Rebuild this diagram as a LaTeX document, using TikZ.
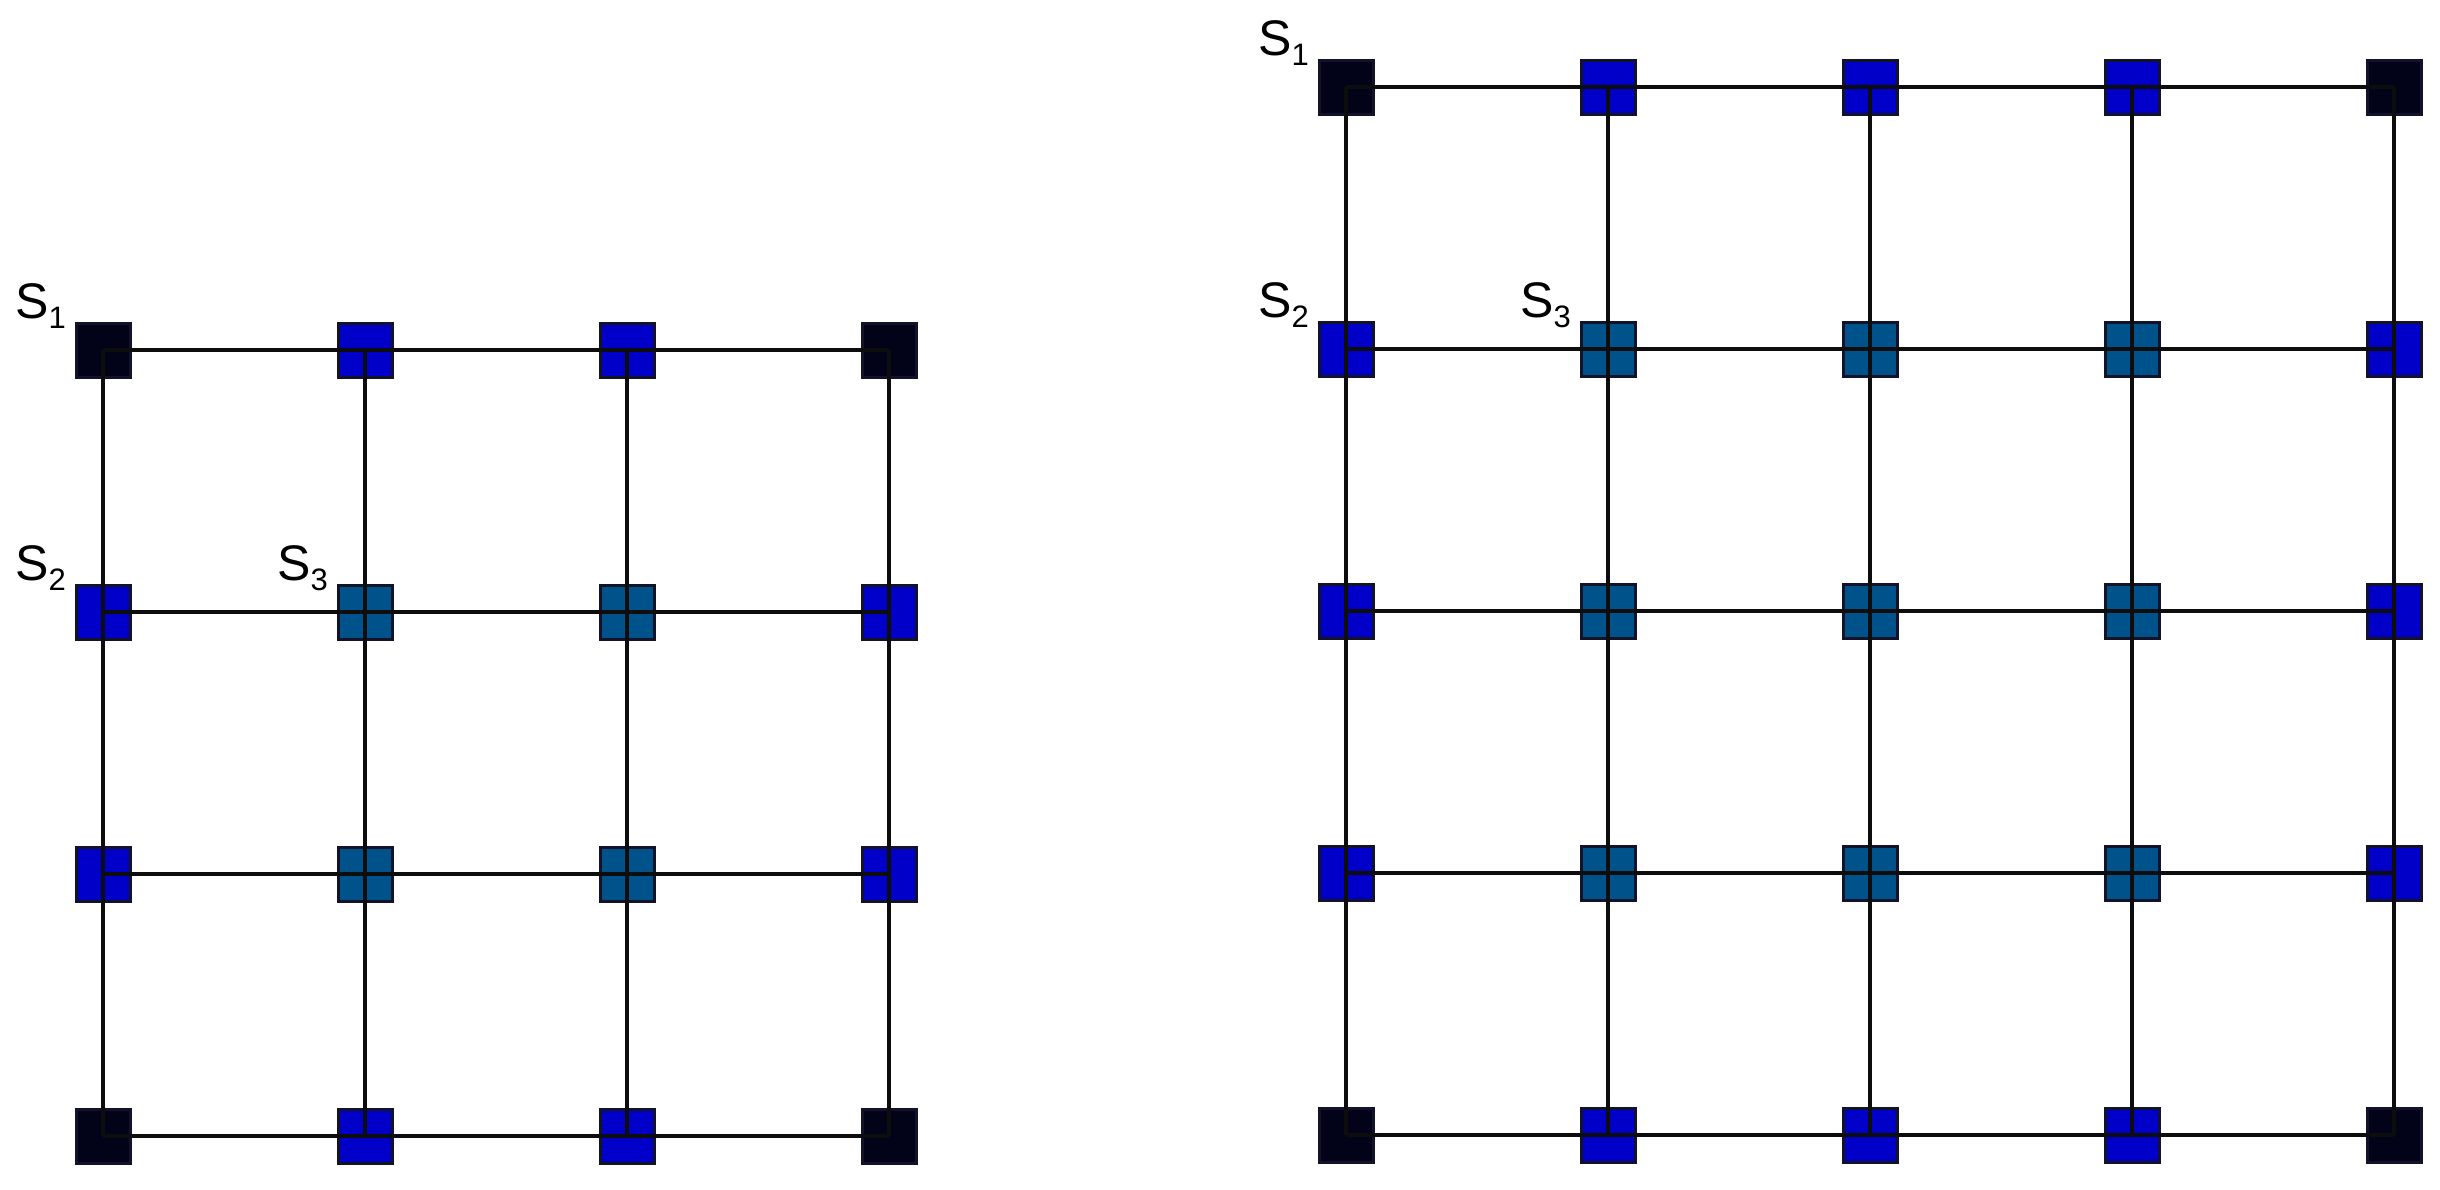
\documentclass[tikz,border=0pt]{standalone}
\usepackage{fontspec}
\setmainfont{Liberation Sans}
\definecolor{cblk}{RGB}{2,2,24}
\definecolor{cblu}{RGB}{0,0,200}
\definecolor{cteal}{RGB}{0,82,138}
\definecolor{cedge}{RGB}{18,18,40}
\newcommand{\Slab}[1]{S\raisebox{-10pt}{\fontsize{31}{31}\selectfont #1}}
\begin{document}
\begin{tikzpicture}[x=1pt,y=-1pt,
  sq/.style={draw=cedge, line width=3pt, minimum size=54pt, inner sep=0pt, outer sep=0pt},
  link/.style={draw=black!95, line width=4pt},
  lab/.style={anchor=base west, inner sep=0pt, font=\fontsize{50}{51}\selectfont, xshift=-88pt, yshift=32pt}]
\useasboundingbox (0,0) rectangle (2440,1189);
% left grid 4x4
\foreach \j/\row in {0/{cblk,cblu,cblu,cblk},1/{cblu,cteal,cteal,cblu},2/{cblu,cteal,cteal,cblu},3/{cblk,cblu,cblu,cblk}}{
  \foreach \c [count=\i from 0] in \row {
    \node[sq, fill=\c] (L\i\j) at (103+262*\i, 350+262*\j) {};
  }
}
% right grid 5x5
\foreach \j/\row in {0/{cblk,cblu,cblu,cblu,cblk},1/{cblu,cteal,cteal,cteal,cblu},2/{cblu,cteal,cteal,cteal,cblu},3/{cblu,cteal,cteal,cteal,cblu},4/{cblk,cblu,cblu,cblu,cblk}}{
  \foreach \c [count=\i from 0] in \row {
    \node[sq, fill=\c] (R\i\j) at (1346+262*\i, 87+262*\j) {};
  }
}
% left links
\foreach \i in {0,...,3}{
  \foreach \j [evaluate=\j as \k using int(\j+1)] in {0,1,2}{
    \draw[link] (L\i\j.center) -- (L\i\k.center);
    \draw[link] (L\j\i.center) -- (L\k\i.center);
  }
}
% right links
\foreach \i in {0,...,4}{
  \foreach \j [evaluate=\j as \k using int(\j+1)] in {0,1,2,3}{
    \draw[link] (R\i\j.center) -- (R\i\k.center);
    \draw[link] (R\j\i.center) -- (R\k\i.center);
  }
}
% labels
\node[lab] (ls1) at (L00.center) {\Slab{1}};
\node[lab] (ls2) at (L01.center) {\Slab{2}};
\node[lab] (ls3) at (L11.center) {\Slab{3}};
\node[lab] (rs1) at (R00.center) {\Slab{1}};
\node[lab] (rs2) at (R01.center) {\Slab{2}};
\node[lab] (rs3) at (R11.center) {\Slab{3}};
\end{tikzpicture}
\end{document}
